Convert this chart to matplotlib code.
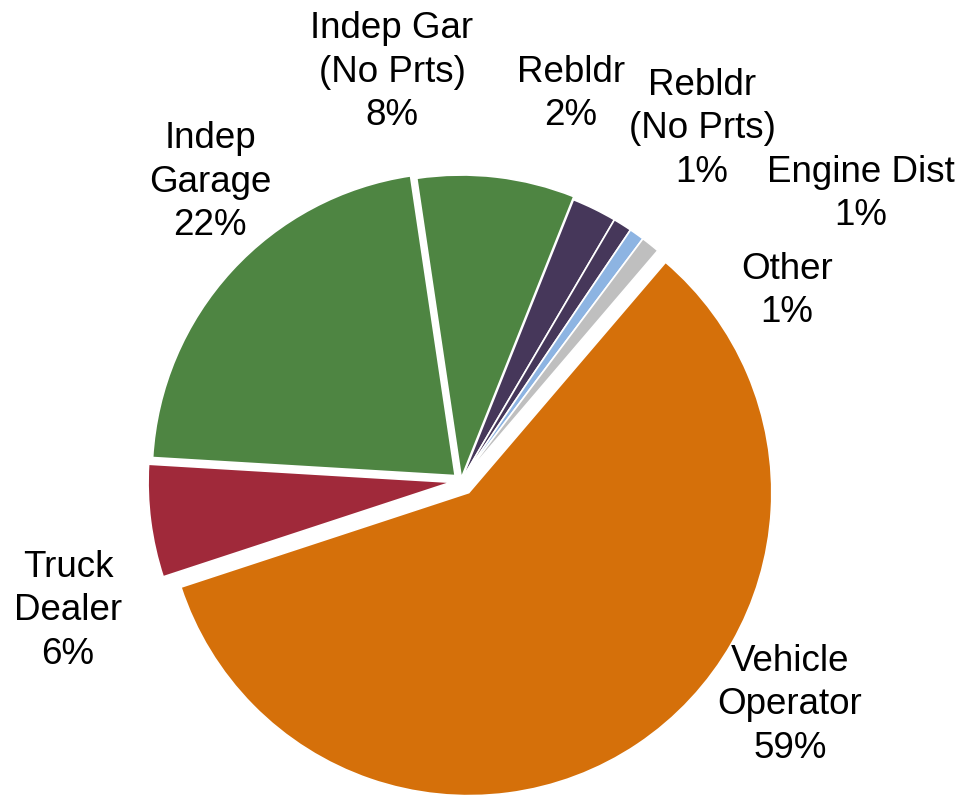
import matplotlib
matplotlib.use('Agg')
import matplotlib.pyplot as plt

# data (shares in %)
categories = ['Vehicle\nOperator', 'Truck\nDealer', 'Indep\nGarage',
              'Indep Gar\n(No Prts)', 'Rebldr', 'Rebldr\n(No Prts)',
              'Engine Dist', 'Other']
shares = [58.7, 6.0, 21.7, 8.4, 2.4, 1.0, 0.8, 1.0]

colors = ['#D5700A', '#A0293A', '#4E8542', '#4E8542',
          '#46375A', '#46375A', '#8DB4E2', '#BFBFBF']
# offsets in pixels (pie is drawn in pixel units)
explode = [14, 10, 8, 3, 0, 0, 0, 0]

# label centres in image pixels (x, y from top)
label_pos = [(790, 705), (68, 611), (210, 182), (392, 72),
             (571, 94), (702, 129), (861, 194), (787, 291)]

W, H = 964, 798
fig = plt.figure(figsize=(W / 100, H / 100), dpi=100)
ax = fig.add_axes([0, 0, 1, 1])

total = sum(shares)
ax.pie(shares, colors=colors, explode=explode, center=(461, H - 481),
       radius=303, startangle=90 - 40.5, counterclock=False,
       wedgeprops={'edgecolor': 'white', 'linewidth': 1.2},
       frame=True)
ax.set_xlim(0, W)
ax.set_ylim(0, H)
ax.set_aspect('equal')
ax.axis('off')

for cat, val, (x, y) in zip(categories, shares, label_pos):
    pct = 100 * val / total
    ax.text(x, H - y, f'{cat}\n{pct:.0f}%', ha='center', va='center',
            fontsize=26.5, family='Liberation Sans', linespacing=1.3,
            color='black')

fig.savefig('out.png', dpi=100)
